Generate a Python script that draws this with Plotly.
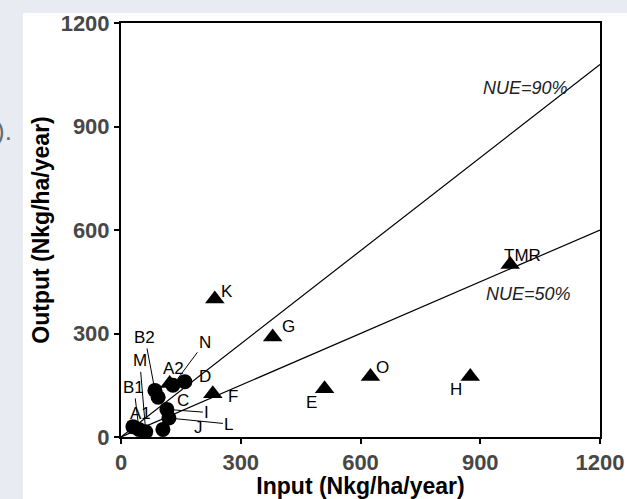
import plotly.graph_objects as go

# ---------------- data ----------------
circle_labels = ["A1", "B1", "M", "J", "L", "I", "C", "B2", "N", "D"]
circle_input = [30, 45, 62, 105, 120, 115, 93, 85, 130, 160]
circle_output = [30, 22, 15, 22, 55, 80, 115, 135, 150, 160]

tri_labels = ["A2", "F", "K", "G", "E", "O", "H", "TMR"]
tri_input = [122, 230, 235, 380, 510, 625, 875, 975]
tri_output = [155, 125, 400, 290, 140, 175, 175, 500]

nue_levels = [0.9, 0.5]
nue_text = ["NUE=90%", "NUE=50%"]
line_x = [0, 1200]

tick_vals = [0, 300, 600, 900, 1200]

# ---------------- layout geometry (pixels) ----------------
W, H = 627, 499
L, R, T, B = 121, 27, 23, 62
pw, ph = W - L - R, H - T - B


def pxp(px, py):
    return (px - L) / pw, (H - B - py) / ph


FONT = "Arial, Liberation Sans, sans-serif"

fig = go.Figure()

for k in nue_levels:
    fig.add_trace(go.Scatter(x=line_x, y=[v * k for v in line_x], mode="lines",
                             line=dict(color="black", width=1.2),
                             hoverinfo="skip", showlegend=False))

fig.add_trace(go.Scatter(x=tri_input, y=tri_output, mode="markers",
                         marker=dict(symbol="triangle-up", size=17, color="black"),
                         text=tri_labels, showlegend=False))
fig.add_trace(go.Scatter(x=circle_input, y=circle_output, mode="markers",
                         marker=dict(symbol="circle", size=15, color="black"),
                         text=circle_labels, showlegend=False))

annotations = []
lab_font = dict(family=FONT, size=17, color="black")

# plain labels: label -> (xshift, yshift) in pixels
plain = {"K": (12, 8), "G": (16, 10), "F": (20, -3), "A2": (4, 15),
         "E": (-13, -14), "O": (12, 9), "H": (-14, -13), "TMR": (12, 9),
         "D": (20, 5), "C": (25, -3), "A1": (8, 13), "J": (36, 2)}
# leader-line labels: label -> (ax, ay) in pixels
leader = {"B2": (-10, -53), "N": (32, -43), "M": (-6, -71), "B1": (-5, -42),
          "I": (40, 3), "L": (60, 6)}

all_labels = tri_labels + circle_labels
all_x = tri_input + circle_input
all_y = tri_output + circle_output
for lab, xv, yv in zip(all_labels, all_x, all_y):
    if lab in plain:
        dx, dy = plain[lab]
        annotations.append(dict(x=xv, y=yv, text=lab, showarrow=False,
                                xshift=dx, yshift=dy, font=lab_font))
    elif lab in leader:
        ax, ay = leader[lab]
        annotations.append(dict(x=xv, y=yv, text=lab, showarrow=True,
                                ax=ax, ay=ay, arrowhead=0, arrowwidth=1,
                                arrowcolor="black", standoff=0, font=lab_font))

for k, txt, (px, py) in zip(nue_levels, nue_text, [(525, 88), (528, 294)]):
    xp, yp = pxp(px, py)
    annotations.append(dict(x=xp, y=yp, xref="paper", yref="paper", text="<i>" + txt + "</i>",
                            showarrow=False, xanchor="center", yanchor="middle",
                            font=dict(family=FONT, size=18, color="#222222")))

# cropped caption fragment at the left
xp, yp = pxp(4, 131)
annotations.append(dict(x=xp, y=yp, xref="paper", yref="paper", text=").",
                        showarrow=False, xanchor="center", yanchor="middle",
                        font=dict(family=FONT, size=26, color="#5f6f70")))

x0, y0 = pxp(23, 13)
x1, y1 = pxp(W, H)
shapes = [dict(type="rect", xref="paper", yref="paper", x0=x0, y0=y1, x1=x1, y1=y0,
               fillcolor="white", line=dict(width=0), layer="below")]

axis_common = dict(range=[0, 1200], tickvals=tick_vals, showgrid=False, zeroline=False,
                   showline=True, linecolor="black", linewidth=2, mirror=True,
                   ticks="outside", ticklen=5, tickwidth=1.5, tickcolor="black",
                   tickfont=dict(family=FONT, size=22, color="#474747", weight="bold"))

fig.update_layout(
    width=W, height=H,
    margin=dict(l=L, r=R, t=T, b=B, autoexpand=False),
    paper_bgcolor="#e8ebf2", plot_bgcolor="white",
    font=dict(family=FONT),
    xaxis=dict(**axis_common,
               title=dict(text="<b>Input (Nkg/ha/year)</b>", standoff=3,
                          font=dict(family=FONT, size=23, color="black"))),
    yaxis=dict(**axis_common,
               title=dict(text="<b>Output (Nkg/ha/year)</b>", standoff=5,
                          font=dict(family=FONT, size=23, color="black"))),
    annotations=annotations, shapes=shapes,
)

fig.write_html("out.html", config={"displayModeBar": False},
               post_script="document.body.style.margin='0';document.body.style.overflow='hidden';")
